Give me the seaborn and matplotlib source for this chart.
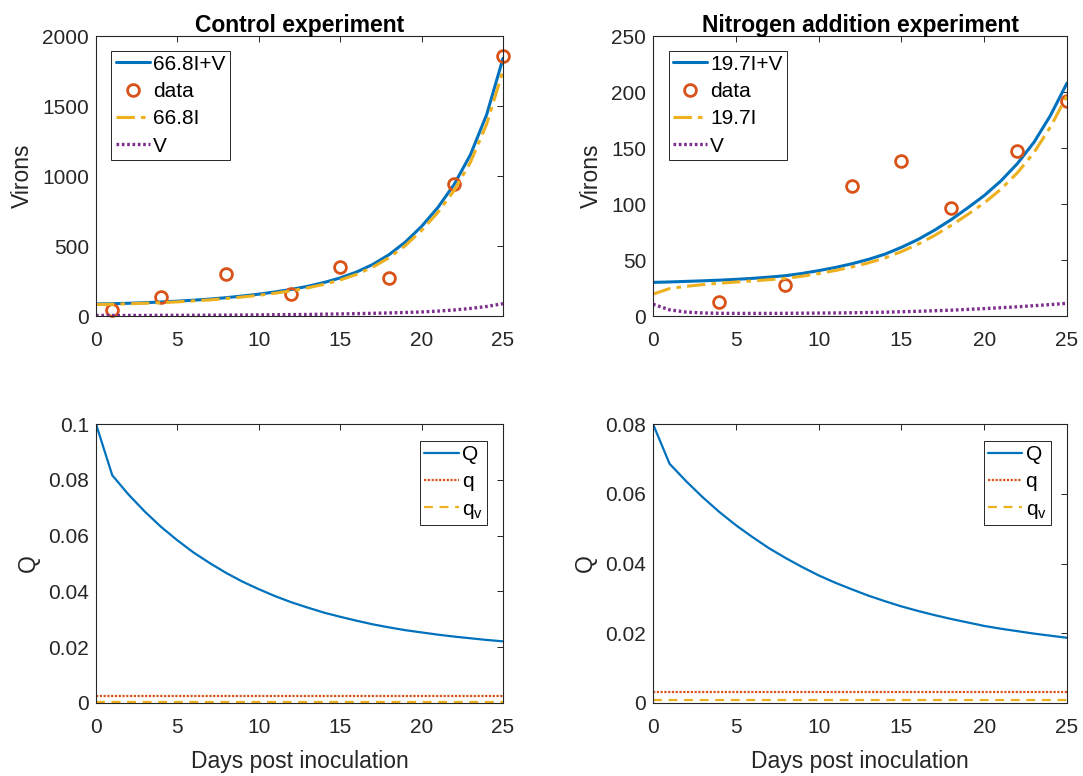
import matplotlib
matplotlib.use("Agg")
import matplotlib.pyplot as plt
from matplotlib.ticker import FuncFormatter
import seaborn as sns
import pandas as pd

# ---- time axis (days post inoculation) ----
days = list(range(26))

# ---- control experiment: virions ----
ctrl_total = [86, 88, 91, 95, 100, 106, 113, 121, 131, 143, 156, 172, 190, 212,
              239, 272, 314, 368, 438, 528, 640, 775, 940, 1152, 1440, 1840]
ctrl_I = [82, 84, 87, 91, 95, 101, 108, 115, 125, 136, 148, 163, 180, 201,
          226, 257, 297, 349, 416, 503, 611, 740, 897, 1098, 1372, 1752]
ctrl_V = [4, 4, 4, 4, 5, 5, 5, 6, 6, 7, 8, 9, 10, 11, 13, 15, 17, 19, 22, 25,
          29, 35, 43, 54, 68, 88]
ctrl_obs_days = [1, 4, 8, 12, 15, 18, 22, 25]
ctrl_obs = [43, 133, 302, 155, 350, 269, 942, 1859]

# ---- nitrogen addition experiment: virions ----
nit_total = [30, 30.4, 30.9, 31.4, 32, 32.7, 33.6, 34.7, 36, 38, 40.5, 43.3,
             46.6, 50.5, 55.2, 61.3, 68.3, 76.6, 86, 96.5, 107.5, 120.5, 136,
             155, 179, 208]
nit_I = [19.5, 24.5, 26.5, 28, 29.3, 30.3, 31.3, 32.4, 33.6, 35.5, 37.9, 40.6,
         43.7, 47.4, 51.8, 57.5, 64.1, 71.9, 80.8, 90.6, 100.9, 113.1, 127.8,
         145.8, 168.8, 196.7]
nit_V = [10.5, 5.5, 3.5, 2.7, 2.4, 2.3, 2.3, 2.3, 2.4, 2.5, 2.6, 2.7, 2.9, 3.1,
         3.4, 3.8, 4.2, 4.7, 5.2, 5.9, 6.6, 7.4, 8.2, 9.2, 10.2, 11.3]
nit_obs_days = [4, 8, 12, 15, 18, 22, 25]
nit_obs = [12.5, 27.7, 116, 138, 96.8, 147, 192]

# ---- cell quotas ----
ctrl_Q = [0.1, 0.0816, 0.0747, 0.0686, 0.0631, 0.0583, 0.0539, 0.0501, 0.0466,
          0.0435, 0.0408, 0.0383, 0.0361, 0.0342, 0.0324, 0.0309, 0.0295,
          0.0282, 0.0271, 0.0261, 0.0253, 0.0245, 0.0238, 0.0232, 0.0226, 0.0221]
nit_Q = [0.08, 0.0686, 0.0636, 0.0590, 0.0548, 0.0510, 0.0476, 0.0444, 0.0416,
         0.0390, 0.0366, 0.0345, 0.0326, 0.0308, 0.0292, 0.0277, 0.0264,
         0.0252, 0.0241, 0.0231, 0.0221, 0.0213, 0.0206, 0.0199, 0.0193, 0.0187]
ctrl_q, ctrl_qv = 0.0026, 0.0005
nit_q, nit_qv = 0.00325, 0.00086

# ---- style ----
sns.set_style("white")
FONT = ["Liberation Sans", "DejaVu Sans"]
plt.rcParams["font.family"] = FONT
INK = "#262626"
plt.rcParams.update({
    "axes.edgecolor": INK,
    "axes.linewidth": 0.8,
    "xtick.color": INK,
    "ytick.color": INK,
    "axes.labelcolor": INK,
    "text.color": INK,
})

BLUE = "#0072BD"
ORANGE = "#D95319"
YELLOW = "#EDB120"
PURPLE = "#7E2F8E"

fig = plt.figure(figsize=(10.83, 7.76), dpi=100)
W, H = 1083, 776


def add_axes(l, r, t, b):
    return fig.add_axes([l / W, 1 - b / H, (r - l) / W, (b - t) / H])


ax_tl = add_axes(96, 503, 36, 316)
ax_tr = add_axes(653, 1067, 36, 316)
ax_bl = add_axes(96, 503, 424, 703)
ax_br = add_axes(653, 1067, 424, 703)

fmt = FuncFormatter(lambda v, p: f"{v:g}")


def style_axes(ax):
    ax.tick_params(direction="in", top=True, right=True, length=4, width=0.7,
                   labelsize=15)
    ax.tick_params(axis="x", pad=11)
    ax.tick_params(axis="y", pad=5)
    for s in ax.spines.values():
        s.set_visible(True)
        s.set_color(INK)
        s.set_linewidth(0.8)
    ax.set_xlim(0, 25)
    ax.set_xticks([0, 5, 10, 15, 20, 25])
    ax.yaxis.set_major_formatter(fmt)


def legend(ax, loc, anchor):
    leg = ax.legend(loc=loc, bbox_to_anchor=anchor, fontsize=15, frameon=True,
                    fancybox=False, framealpha=1, edgecolor=INK,
                    borderpad=0.2, labelspacing=0.4, handlelength=1.65,
                    handletextpad=0.15, borderaxespad=0)
    leg.get_frame().set_linewidth(0.7)
    for t in leg.get_texts():
        t.set_color("black")
    return leg


def virion_panel(ax, total, I, V, obs_days, obs, factor, title, ymax, ystep,
                 clip):
    df = pd.DataFrame({"day": days, "total": total, "I": I, "V": V})
    obs_df = pd.DataFrame({"day": obs_days, "obs": obs})
    sns.lineplot(data=df, x="day", y="total", ax=ax, color=BLUE, lw=2.2,
                 label=f"{factor}I+V", legend=False)
    sns.lineplot(data=obs_df, x="day", y="obs", ax=ax, linestyle="",
                 marker="o", markersize=8.5, markerfacecolor="none",
                 markeredgecolor=ORANGE, markeredgewidth=2.0, color=ORANGE,
                 label="data", legend=False, clip_on=clip)
    sns.lineplot(data=df, x="day", y="I", ax=ax, color=YELLOW, lw=2.2,
                 linestyle=(0, (6, 2, 1.5, 2)), label=f"{factor}I", legend=False)
    sns.lineplot(data=df, x="day", y="V", ax=ax, color=PURPLE, lw=2.4,
                 linestyle=(0, (0.8, 0.8)), label="V", legend=False)
    style_axes(ax)
    ax.set_ylim(0, ymax)
    ax.set_yticks(list(range(0, ymax + 1, ystep)))
    ax.set_xlabel("")
    ax.set_ylabel("Virons", fontsize=16.5, labelpad=6)
    ax.set_title(title, fontsize=16.5, fontweight="bold", color="black", pad=3)
    legend(ax, "upper left", (0.038, 0.948))


def quota_panel(ax, Q, q, qv, ymax, ystep):
    df = pd.DataFrame({"day": days, "Q": Q, "q": [q] * len(days),
                       "qv": [qv] * len(days)})
    sns.lineplot(data=df, x="day", y="Q", ax=ax, color=BLUE, lw=1.6,
                 label="Q", legend=False)
    sns.lineplot(data=df, x="day", y="q", ax=ax, color=ORANGE, lw=1.6,
                 linestyle=(0, (1, 0.7)), label="q", legend=False)
    sns.lineplot(data=df, x="day", y="qv", ax=ax, color=YELLOW, lw=1.6,
                 linestyle=(0, (4, 3)), label=r"q$_\mathregular{v}$",
                 legend=False)
    style_axes(ax)
    ax.set_ylim(0, ymax)
    n = int(round(ymax / ystep))
    ax.set_yticks([i * ystep for i in range(n + 1)])
    ax.set_xlabel("Days post inoculation", fontsize=16.5, labelpad=9)
    ax.set_ylabel("Q", fontsize=16.5, labelpad=6)
    legend(ax, "upper right", (0.961, 0.94))


virion_panel(ax_tl, ctrl_total, ctrl_I, ctrl_V, ctrl_obs_days, ctrl_obs,
             "66.8", "Control experiment", 2000, 500, False)
virion_panel(ax_tr, nit_total, nit_I, nit_V, nit_obs_days, nit_obs,
             "19.7", "Nitrogen addition experiment", 250, 50, True)
quota_panel(ax_bl, ctrl_Q, ctrl_q, ctrl_qv, 0.1, 0.02)
quota_panel(ax_br, nit_Q, nit_q, nit_qv, 0.08, 0.02)

fig.savefig("out.png", dpi=100)
